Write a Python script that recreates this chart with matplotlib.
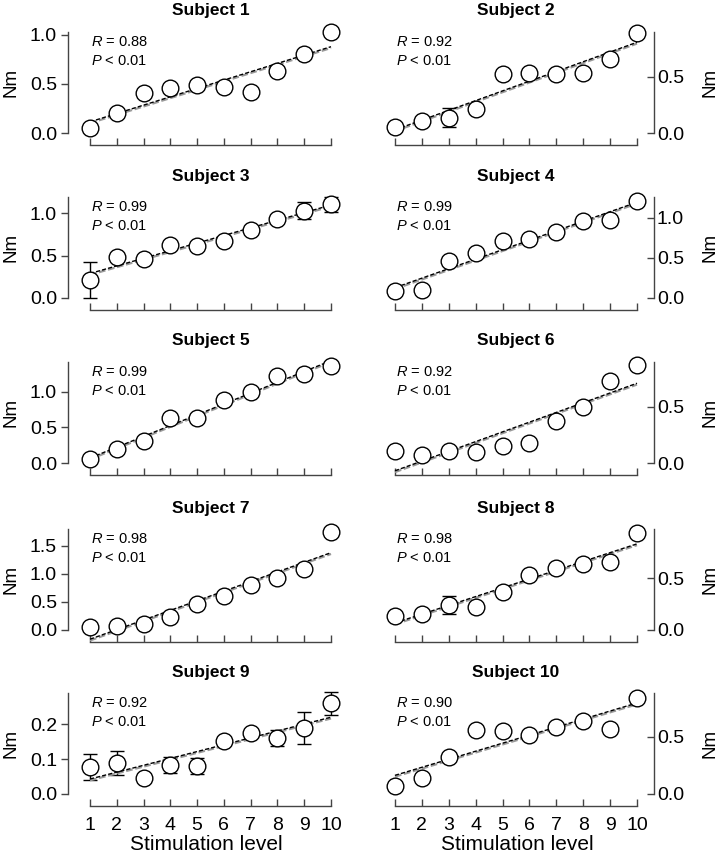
import numpy as np
import matplotlib
matplotlib.use("Agg")
import matplotlib.pyplot as plt
from matplotlib import transforms
from matplotlib.ticker import MultipleLocator

plt.rcParams['font.family'] = ['Liberation Sans', 'DejaVu Sans']
plt.rcParams['mathtext.fontset'] = 'custom'
plt.rcParams['mathtext.it'] = 'Liberation Sans:italic'
plt.rcParams['mathtext.rm'] = 'Liberation Sans'

levels = np.arange(1, 11)

s1 = [0.05, 0.20, 0.41, 0.46, 0.49, 0.47, 0.42, 0.63, 0.81, 1.03]
s2 = [0.055, 0.106, 0.135, 0.215, 0.53, 0.537, 0.523, 0.537, 0.658, 0.888]
s3 = [0.21, 0.48, 0.46, 0.627, 0.615, 0.673, 0.796, 0.93, 1.027, 1.104]
s4 = [0.085, 0.098, 0.46, 0.56, 0.715, 0.736, 0.825, 0.96, 0.97, 1.21]
s5 = [0.06, 0.19, 0.31, 0.63, 0.63, 0.885, 1.0, 1.23, 1.25, 1.36]
s6 = [0.11, 0.073, 0.11, 0.10, 0.15, 0.174, 0.372, 0.50, 0.727, 0.872]
s7 = [0.046, 0.063, 0.115, 0.23, 0.46, 0.61, 0.80, 0.925, 1.08, 1.74]
s8 = [0.136, 0.158, 0.24, 0.224, 0.37, 0.536, 0.603, 0.642, 0.658, 0.936]
s9 = [0.078, 0.089, 0.047, 0.083, 0.080, 0.153, 0.175, 0.160, 0.189, 0.259]
s10 = [0.068, 0.138, 0.325, 0.556, 0.548, 0.514, 0.585, 0.64, 0.565, 0.839]

e1 = [0, 0, 0, 0, 0, 0, 0, 0, 0, 0]
e2 = [0, 0, 0.085, 0, 0, 0, 0, 0, 0, 0]
e3 = [0.21, 0, 0, 0.03, 0.05, 0, 0, 0, 0.10, 0.085]
e4 = [0, 0, 0, 0, 0, 0, 0, 0, 0, 0]
e5 = [0, 0, 0, 0, 0, 0, 0, 0, 0, 0]
e6 = [0, 0, 0, 0, 0, 0, 0, 0, 0, 0]
e7 = [0, 0, 0, 0, 0, 0, 0, 0, 0, 0]
e8 = [0, 0, 0.085, 0, 0, 0, 0, 0, 0, 0]
e9 = [0.037, 0.035, 0, 0.024, 0.022, 0, 0, 0.024, 0.045, 0.033]
e10 = [0, 0, 0, 0, 0, 0, 0, 0, 0, 0]

subjects = ['Subject 1', 'Subject 2', 'Subject 3', 'Subject 4', 'Subject 5',
            'Subject 6', 'Subject 7', 'Subject 8', 'Subject 9', 'Subject 10']
values = [s1, s2, s3, s4, s5, s6, s7, s8, s9, s10]
errors = [e1, e2, e3, e4, e5, e6, e7, e8, e9, e10]
r_vals = ['0.88', '0.92', '0.99', '0.99', '0.99', '0.92', '0.98', '0.98', '0.92', '0.90']
y_tops = [1.03, 0.90, 1.19, 1.26, 1.42, 0.895, 1.80, 0.976, 0.289, 0.88]
y_steps = [0.5, 0.5, 0.5, 0.5, 0.5, 0.5, 0.5, 0.5, 0.1, 0.5]

W, H = 723, 864
fig = plt.figure(figsize=(W / 100, H / 100), dpi=100)

row_bottom = [145, 310, 475, 642, 806]
row_h = 113
zero_gap = 12
spine_col = '#444444'

for i in range(10):
    row, col = i // 2, i % 2
    if col == 0:
        left, width, xl = 68, 276.4, (0.178, 10.5)
    else:
        left, width, xl = 381.5, 272.5, (0.5, 10.632)
    ax = fig.add_axes([left / W, 1 - row_bottom[row] / H, width / W, row_h / H])
    top = y_tops[i]
    ax.set_xlim(*xl)
    ax.set_ylim(-top * zero_gap / (row_h - zero_gap), top)

    y = np.array(values[i])
    ax.errorbar(levels, y, yerr=errors[i], fmt='none', ecolor='black',
                elinewidth=1, capsize=5, capthick=1, zorder=2, clip_on=False)
    ax.plot(levels, y, 'o', ms=12, mfc='white', mec='black', mew=1,
            zorder=3, clip_on=False)

    k, b = np.polyfit(levels, y, 1)
    fx = np.array([levels[0], levels[-1]])
    shift = transforms.offset_copy(ax.transData, fig=fig, x=0, y=-1.3, units='dots')
    ax.plot(fx, k * fx + b, color='#9a9a9a', lw=1.6, ls=(0, (3, 1.2)),
            transform=shift, zorder=2.5, clip_on=False)
    ax.plot(fx, k * fx + b, color='black', lw=1.0, ls=(0, (3, 1.5)),
            zorder=2.6, clip_on=False)

    ax.text(1.05, 1 - 10 / row_h, '$R$ = ' + r_vals[i],
            transform=transforms.blended_transform_factory(ax.transData, ax.transAxes),
            ha='left', va='center', fontsize=10.5)
    ax.text(1.05, 1 - 29 / row_h, '$P$ < 0.01',
            transform=transforms.blended_transform_factory(ax.transData, ax.transAxes),
            ha='left', va='center', fontsize=10.5)
    ax.text(5.5, 1 + 21 / row_h, subjects[i],
            transform=transforms.blended_transform_factory(ax.transData, ax.transAxes),
            ha='center', va='center', fontsize=12.5, fontweight='bold')

    ax.spines['top'].set_visible(False)
    ax.spines['bottom'].set_bounds(1, 10)
    if col == 0:
        ax.spines['right'].set_visible(False)
        ax.spines['left'].set_bounds(0, top)
        ys = 'left'
    else:
        ax.spines['left'].set_visible(False)
        ax.spines['right'].set_bounds(0, top)
        ax.yaxis.tick_right()
        ax.yaxis.set_label_position('right')
        ys = 'right'
    for s in ('bottom', ys):
        ax.spines[s].set_color(spine_col)
        ax.spines[s].set_linewidth(1)

    ax.yaxis.set_major_locator(MultipleLocator(y_steps[i]))
    ax.set_yticks([t for t in ax.get_yticks() if 0 <= t <= top + 1e-9])
    ax.set_yticklabels(['%.1f' % t for t in ax.get_yticks()])
    ax.set_xticks(levels)
    ax.tick_params(axis='x', direction='in', length=5, width=1, color=spine_col,
                   labelsize=14, pad=8)
    if col == 0:
        ax.tick_params(axis='y', direction='out', length=5, width=1, color=spine_col,
                       labelsize=14, pad=3)
        ax.set_ylabel('Nm', fontsize=13.5)
        ax.yaxis.set_label_coords(-0.177, 0.553)
    else:
        ax.tick_params(axis='y', direction='in', length=5, width=1, color=spine_col,
                       labelsize=14, pad=2)
        ax.set_ylabel('Nm', fontsize=13.5)
        ax.yaxis.set_label_coords(1.176, 0.553)

    if row == 4:
        ax.set_xlabel('Stimulation level', fontsize=15, labelpad=1)
    else:
        ax.tick_params(axis='x', labelbottom=False)

fig.savefig('out.png', dpi=100)
